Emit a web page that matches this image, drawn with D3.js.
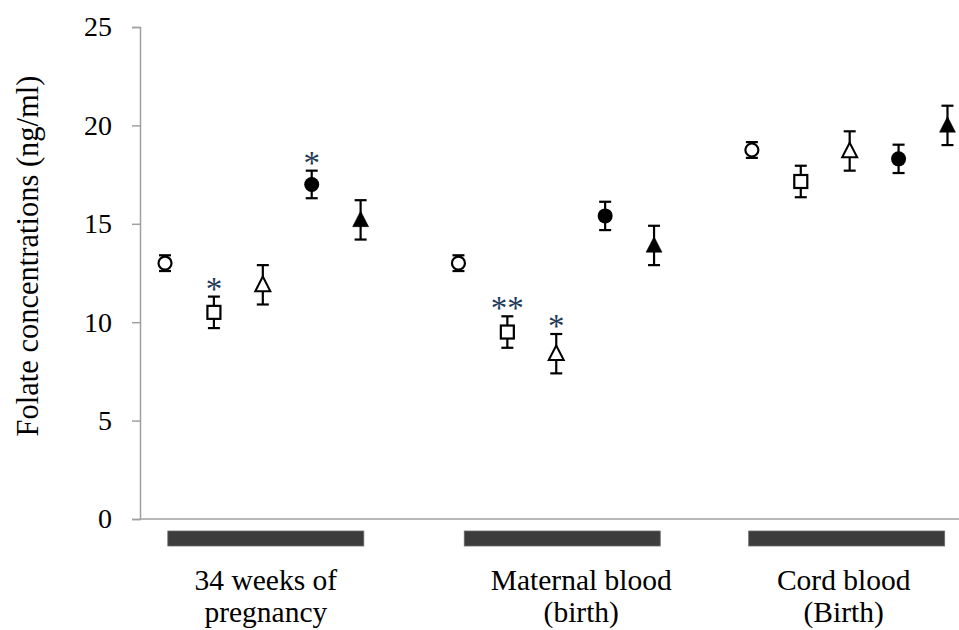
<!DOCTYPE html>
<html>
<head>
<meta charset="utf-8">
<script src="https://cdn.jsdelivr.net/npm/d3@7"></script>
<style>
  html, body { margin: 0; padding: 0; background: #fff; }
  svg { display: block; }
  text { font-family: "Liberation Serif", "Times New Roman", serif; fill: #000; }
</style>
</head>
<body>
<svg id="chart" width="959" height="630"></svg>
<script>
// ---- data ----
const groups = ["34 weeks of|pregnancy", "Maternal blood|(birth)", "Cord blood|(Birth)"];
const seriesNames = ["s1", "s2", "s3", "s4", "s5"];
const seriesShapes = ["circle", "square", "triangle", "circle", "triangle"];
const seriesFilled = [false, false, false, true, true];

const s1Values = [13.0, 13.0, 18.75];
const s1Errors = [0.4, 0.4, 0.4];
const s2Values = [10.5, 9.5, 17.15];
const s2Errors = [0.8, 0.8, 0.8];
const s3Values = [11.9, 8.4, 18.7];
const s3Errors = [1.0, 1.0, 1.0];
const s4Values = [17.0, 15.4, 18.3];
const s4Errors = [0.7, 0.72, 0.72];
const s5Values = [15.2, 13.9, 20.0];
const s5Errors = [1.0, 1.0, 1.0];

const s2Sig = ["*", "**", ""];
const s3Sig = ["", "*", ""];
const s4Sig = ["*", "", ""];
const s1Sig = ["", "", ""];
const s5Sig = ["", "", ""];

const yTicks = [0, 5, 10, 15, 20, 25];
const yLabel = "Folate concentrations (ng/ml)";

// ---- build rows ----
const allValues = [s1Values, s2Values, s3Values, s4Values, s5Values];
const allErrors = [s1Errors, s2Errors, s3Errors, s4Errors, s5Errors];
const allSig = [s1Sig, s2Sig, s3Sig, s4Sig, s5Sig];
const rows = [];
seriesNames.forEach((s, si) => {
  groups.forEach((g, gi) => {
    rows.push({ series: s, si, gi, group: g, value: allValues[si][gi], err: allErrors[si][gi], sig: allSig[si][gi] });
  });
});

// ---- layout ----
const svg = d3.select("#chart");
const axisLeftX = 140;
const y = d3.scaleLinear().domain([0, 25]).range([519, 27]);
const xGroup = d3.scaleBand().domain(groups).range([116.1, 996.4]);
const xInner = d3.scalePoint().domain(seriesNames).range([-97.8, 97.8]);
const gc = g => xGroup(g) + xGroup.bandwidth() / 2;
const cx = d => gc(d.group) + xInner(d.series);

// axes
const axisColor = "#a0a0a0";
svg.append("line").attr("x1", axisLeftX).attr("x2", 959).attr("y1", y(0)).attr("y2", y(0))
  .attr("stroke", axisColor).attr("stroke-width", 1.5);
const yAxis = svg.append("g").attr("transform", `translate(${axisLeftX},0)`)
  .call(d3.axisLeft(y).tickValues(yTicks).tickSize(8).tickPadding(20).tickFormat(d3.format("d")));
yAxis.select(".domain").attr("stroke", axisColor).attr("stroke-width", 1.5);
yAxis.selectAll(".tick line").attr("stroke", axisColor).attr("stroke-width", 1.5);
yAxis.selectAll(".tick text").attr("font-size", 28).attr("font-family", "Liberation Serif").attr("fill", "#000");

// y label
svg.append("text")
  .attr("transform", `translate(38, 256) rotate(-90)`)
  .attr("text-anchor", "middle").attr("font-size", 30.5).text(yLabel);

// group bars and labels (small layout nudges to match the original page)
const barW = 196;
const barNudge = [3, 6, -3];
const labelNudge = [3, 25, -6];
groups.forEach((g, gi) => {
  const c = gc(g);
  svg.append("rect").attr("x", c + barNudge[gi] - barW / 2).attr("y", 531).attr("width", barW).attr("height", 15)
    .attr("fill", "#3c3c3c").attr("stroke", "#6a6a6a").attr("stroke-width", 0.8);
  const lines = g.split("|");
  const t = svg.append("text").attr("text-anchor", "middle").attr("font-size", 29.5);
  lines.forEach((ln, i) => {
    t.append("tspan").attr("x", c + labelNudge[gi]).attr("y", 590 + i * 32).text(ln);
  });
});

// error bars
const capW = 12;
const eb = svg.append("g").attr("stroke", "#000").attr("stroke-width", 2.2);
rows.forEach(d => {
  const x = cx(d);
  eb.append("line").attr("x1", x).attr("x2", x).attr("y1", y(d.value + d.err)).attr("y2", y(d.value - d.err));
  eb.append("line").attr("x1", x - capW / 2).attr("x2", x + capW / 2).attr("y1", y(d.value + d.err)).attr("y2", y(d.value + d.err));
  eb.append("line").attr("x1", x - capW / 2).attr("x2", x + capW / 2).attr("y1", y(d.value - d.err)).attr("y2", y(d.value - d.err));
});

// markers
const mg = svg.append("g");
rows.forEach(d => {
  const x = cx(d), yy = y(d.value);
  const shape = seriesShapes[d.si];
  const filled = seriesFilled[d.si];
  const fill = filled ? "#000" : "#fff";
  if (shape === "circle") {
    mg.append("circle").attr("cx", x).attr("cy", yy).attr("r", filled ? 7.5 : 6.5)
      .attr("fill", fill).attr("stroke", "#000").attr("stroke-width", filled ? 0 : 2.2);
  } else if (shape === "square") {
    mg.append("rect").attr("x", x - 6.5).attr("y", yy - 6.5).attr("width", 13).attr("height", 13)
      .attr("fill", fill).attr("stroke", "#000").attr("stroke-width", 2.2);
  } else {
    const s = filled ? 8 : 7.5;
    mg.append("path")
      .attr("d", `M${x},${yy - s * 1.1} L${x + s},${yy + s * 0.85} L${x - s},${yy + s * 0.85} Z`)
      .attr("fill", fill).attr("stroke", "#000").attr("stroke-width", filled ? 0.5 : 2)
      .attr("stroke-linejoin", "miter");
  }
});

// significance asterisks
rows.filter(d => d.sig).forEach(d => {
  svg.append("text").attr("x", cx(d)).attr("y", y(d.value + d.err) + 3)
    .attr("text-anchor", "middle").attr("font-size", 33).attr("fill", "#1e3a56")
    .style("fill", "#1e3a56").text(d.sig);
});
</script>
</body>
</html>
